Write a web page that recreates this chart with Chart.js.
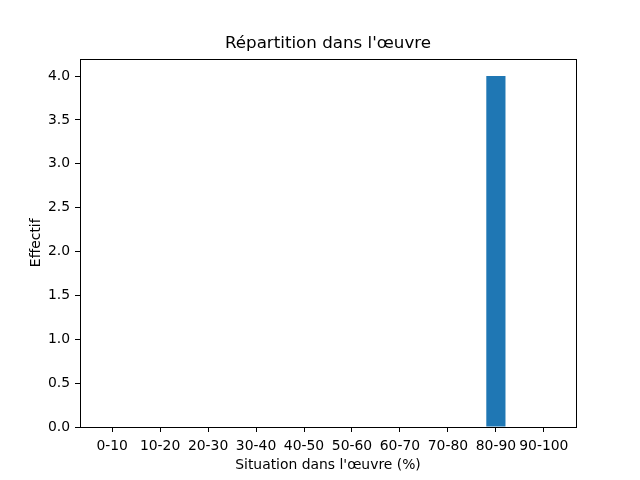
<!DOCTYPE html>
<html>
<head>
<meta charset="utf-8">
<script src="https://cdn.jsdelivr.net/npm/chart.js@4"></script>
<style>
  html, body { margin: 0; padding: 0; background: #fff; }
  #wrap { width: 640px; height: 480px; }
</style>
</head>
<body>
<div id="wrap"><canvas id="chart" width="640" height="480"></canvas></div>
<script>
// data
const categories = ['0-10', '10-20', '20-30', '30-40', '40-50', '50-60', '60-70', '70-80', '80-90', '90-100'];
const counts = [0, 0, 0, 0, 0, 0, 0, 0, 4, 0];
const yTicks = [0, 0.5, 1, 1.5, 2, 2.5, 3, 3.5, 4];

const FONT = "'DejaVu Sans', sans-serif";

// full box around the plot area, like matplotlib spines
const frame = {
  id: 'frame',
  afterDatasetsDraw(chart) {
    const a = chart.chartArea, ctx = chart.ctx;
    ctx.save();
    ctx.strokeStyle = '#000';
    ctx.lineWidth = 1;
    ctx.strokeRect(Math.round(a.left) + 0.5, Math.round(a.top) + 0.5,
      Math.round(a.right - a.left), Math.round(a.bottom - a.top));
    ctx.restore();
  }
};

new Chart(document.getElementById('chart'), {
  type: 'bar',
  data: {
    datasets: [{
      data: counts.map((v, i) => ({ x: i, y: v })),
      backgroundColor: '#1f77b4',
      borderWidth: 0,
      barPercentage: 0.4,
      categoryPercentage: 1.0
    }]
  },
  options: {
    responsive: false,
    animation: false,
    devicePixelRatio: 1,
    layout: { padding: { left: 16, right: 0, top: 0, bottom: 0 } },
    plugins: {
      legend: { display: false },
      tooltip: { enabled: false },
      title: {
        display: true,
        text: "Répartition dans l'œuvre",
        color: '#000',
        font: { family: FONT, size: 16.7, weight: 'normal' },
        padding: { top: 34, bottom: 4.5 }
      }
    },
    scales: {
      x: {
        type: 'linear',
        min: -0.67,
        max: 9.67,
        offset: false,
        afterBuildTicks: axis => { axis.ticks = categories.map((c, i) => ({ value: i })); },
        afterFit: scale => { scale.height = 53; },
        grid: { display: true, offset: false, drawOnChartArea: false, drawTicks: true, tickLength: 5, color: '#000' },
        border: { display: false },
        ticks: {
          color: '#000',
          font: { family: FONT, size: 13.9 },
          padding: 6,
          maxRotation: 0,
          autoSkip: false,
          callback: v => categories[v]
        },
        title: {
          display: true,
          text: "Situation dans l'œuvre (%)",
          color: '#000',
          font: { family: FONT, size: 13.9 },
          padding: { top: 0, bottom: 6 }
        }
      },
      y: {
        min: 0,
        max: 4.2,
        afterBuildTicks: axis => { axis.ticks = yTicks.map(v => ({ value: v })); },
        afterFit: scale => { scale.width = 64; },
        grid: { display: true, drawOnChartArea: false, drawTicks: true, tickLength: 5, color: '#000' },
        border: { display: false },
        ticks: {
          color: '#000',
          font: { family: FONT, size: 13.9 },
          padding: 5,
          callback: v => v.toFixed(1)
        },
        title: {
          display: true,
          text: 'Effectif',
          color: '#000',
          font: { family: FONT, size: 13.9 },
          padding: { top: 12, bottom: 0 }
        }
      },
      // empty right-hand strip so the plot area ends where the reference's does
      yRight: {
        type: 'linear',
        position: 'right',
        display: true,
        grid: { display: false },
        border: { display: false },
        ticks: { display: false },
        afterFit: scale => { scale.width = 64; }
      }
    }
  },
  plugins: [frame]
});
</script>
</body>
</html>
